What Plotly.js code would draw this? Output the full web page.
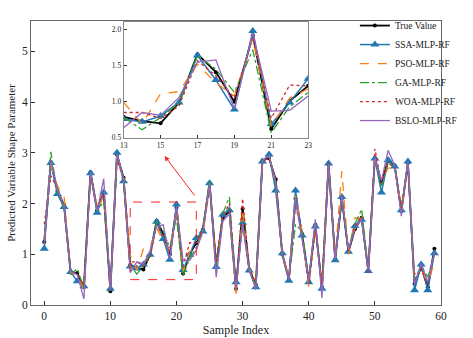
<!DOCTYPE html>
<html>
<head>
<meta charset="utf-8">
<script src="https://cdn.plot.ly/plotly-3.0.1.min.js"></script>
<style>
  body { margin: 0; background: #fff; }
  #box { width: 473px; height: 338px; }
</style>
</head>
<body>
<div id="box"></div>
<script>
'use strict'

var sampleIdx = [];
for (var i = 0; i < 60; i++) sampleIdx.push(i);

var trueVal = [1.24, 2.82, 2.25, 1.97, 0.64, 0.63, 0.35, 2.62, 1.87, 2.22,
               0.27, 2.97, 2.51, 0.79, 0.73, 0.70, 0.99, 1.66, 1.41, 1.00,
               1.92, 0.62, 1.01, 1.22, 1.49, 2.41, 0.78, 1.72, 1.85, 0.32,
               1.90, 0.70, 0.40, 2.85, 2.90, 2.48, 1.00, 0.50, 2.10, 1.40,
               0.48, 1.58, 0.35, 2.78, 0.90, 2.10, 1.05, 1.50, 1.72, 0.68,
               2.90, 2.41, 2.85, 2.75, 1.85, 2.80, 0.42, 0.75, 0.35, 1.11];

var ssa = [1.11, 2.80, 2.19, 1.93, 0.65, 0.47, 0.37, 2.60, 1.82, 2.22,
           0.32, 3.00, 2.44, 0.76, 0.72, 0.80, 0.99, 1.64, 1.30, 0.89,
           1.98, 0.69, 0.99, 1.32, 1.45, 2.40, 0.75, 1.78, 1.87, 0.45,
           1.62, 0.68, 0.35, 2.83, 2.97, 2.26, 1.02, 0.48, 2.26, 1.37,
           0.45, 1.55, 0.32, 2.79, 0.88, 2.13, 1.05, 1.56, 1.68, 0.67,
           2.89, 2.22, 2.86, 2.73, 1.87, 2.83, 0.29, 0.80, 0.29, 1.02];

var pso = [1.30, 2.75, 2.35, 2.15, 0.62, 0.60, 0.30, 2.55, 1.90, 2.15,
           0.35, 2.90, 2.55, 0.99, 0.69, 1.11, 1.14, 1.52, 1.26, 1.08,
           1.88, 0.66, 1.05, 1.18, 1.40, 2.30, 0.85, 1.70, 1.80, 0.15,
           1.90, 0.72, 0.45, 2.82, 2.92, 2.40, 1.05, 0.55, 2.15, 1.45,
           0.35, 1.50, 0.40, 2.75, 0.95, 2.64, 1.00, 1.72, 1.70, 0.70,
           2.85, 2.45, 2.70, 2.70, 1.95, 2.78, 0.60, 0.70, 0.45, 0.83];

var ga = [1.20, 3.02, 2.20, 1.90, 0.60, 0.72, 0.32, 2.60, 1.85, 2.05,
          0.30, 2.95, 2.45, 0.78, 0.61, 0.78, 0.98, 1.64, 1.45, 1.13,
          1.72, 0.57, 0.93, 1.13, 1.55, 2.45, 0.80, 1.80, 2.13, 0.35,
          1.65, 0.72, 0.38, 2.85, 2.92, 2.40, 0.95, 0.50, 1.59, 1.45,
          0.50, 1.55, 0.38, 2.78, 0.92, 2.10, 1.10, 1.60, 1.89, 0.70,
          2.92, 2.35, 2.80, 2.70, 1.85, 2.78, 0.48, 0.78, 0.55, 1.00];

var woa = [1.59, 2.55, 2.30, 1.95, 0.68, 0.60, 0.38, 2.55, 1.95, 2.20,
           0.30, 2.85, 2.50, 0.85, 0.85, 0.77, 0.94, 1.57, 1.36, 1.05,
           1.90, 0.77, 1.23, 1.22, 1.50, 2.35, 0.85, 1.75, 2.00, 0.30,
           2.10, 0.75, 0.42, 2.85, 2.88, 2.45, 1.05, 0.52, 2.00, 1.35,
           0.42, 1.50, 0.38, 2.82, 0.92, 2.15, 1.05, 1.55, 1.75, 0.62,
           3.08, 2.40, 2.80, 2.72, 1.90, 2.80, 0.45, 0.72, 0.40, 1.05];

var bslo = [1.20, 2.85, 2.28, 1.95, 0.65, 0.60, 0.12, 2.62, 1.85, 2.49,
            0.28, 2.98, 2.50, 0.64, 0.85, 0.81, 1.06, 1.55, 1.58, 0.90,
            1.95, 0.87, 0.88, 1.08, 1.45, 2.40, 0.55, 1.65, 1.80, 0.30,
            1.60, 0.70, 0.30, 2.85, 2.95, 2.45, 1.00, 0.50, 2.10, 1.30,
            0.48, 1.69, 0.14, 2.78, 0.90, 2.15, 1.10, 1.50, 1.70, 0.68,
            2.90, 2.45, 3.05, 2.75, 1.75, 2.82, 0.40, 0.82, 0.45, 1.05];

var zoomX = [13, 23];
var zoomY = [0.5, 2.1];

var serif = 'Liberation Serif, Times New Roman, serif';

var series = [
    {name: 'True Value',  y: trueVal, color: '#000000', dash: 'solid',   width: 1.8, marker: {symbol: 'circle', size: 4}},
    {name: 'SSA-MLP-RF',  y: ssa,     color: '#1f77b4', dash: 'solid',   width: 1.5, marker: {symbol: 'triangle-up', size: 8}},
    {name: 'PSO-MLP-RF',  y: pso,     color: '#ff7f0e', dash: 'dash',    width: 1.3, marker: null},
    {name: 'GA-MLP-RF',   y: ga,      color: '#2ca02c', dash: 'dashdot', width: 1.3, marker: null},
    {name: 'WOA-MLP-RF',  y: woa,     color: '#d62728', dash: 'dot',     width: 1.3, marker: null},
    {name: 'BSLO-MLP-RF', y: bslo,    color: '#9467bd', dash: 'solid',   width: 1.3, marker: null}
];

var graphData = [];
series.forEach(function(s){
    var tr = {
        type: 'scatter',
        mode: s.marker ? 'lines+markers' : 'lines',
        name: s.name,
        x: sampleIdx,
        y: s.y,
        line: {color: s.color, dash: s.dash, width: s.width},
        xaxis: 'x', yaxis: 'y'
    };
    if (s.marker) tr.marker = {color: s.color, symbol: s.marker.symbol, size: s.marker.size};
    graphData.push(tr);
});
// inset copies of the zoomed window
series.forEach(function(s){
    var xs = [], ys = [];
    for (var i = zoomX[0]; i <= zoomX[1]; i++) { xs.push(i); ys.push(s.y[i]); }
    var tr = {
        type: 'scatter',
        mode: s.marker ? 'lines+markers' : 'lines',
        x: xs, y: ys,
        showlegend: false,
        line: {color: s.color, dash: s.dash, width: s.width},
        xaxis: 'x2', yaxis: 'y2'
    };
    if (s.marker) tr.marker = {color: s.color, symbol: s.marker.symbol, size: s.marker.size};
    graphData.push(tr);
});

var layout = {
    width: 473,
    height: 338,
    margin: {l: 31, r: 13, t: 11, b: 33, pad: 0},
    paper_bgcolor: '#ffffff',
    plot_bgcolor: '#ffffff',
    font: {family: serif, size: 11.5, color: '#222'},
    showlegend: true,
    legend: {
        x: 0.79, y: 1.035, xanchor: 'left', yanchor: 'top',
        bgcolor: 'rgba(255,255,255,0)',
        font: {family: serif, size: 9.5, color: '#222'},
        tracegroupgap: 0
    },
    xaxis: {
        domain: [0, 1],
        range: [-2, 60],
        tickvals: [0, 10, 20, 30, 40, 50, 60],
        ticks: 'inside', ticklen: 4, tickcolor: '#333',
        showline: true, mirror: true, linecolor: '#666', linewidth: 1,
        showgrid: false, zeroline: false,
        title: {text: 'Sample Index', font: {family: serif, size: 12}, standoff: 4},
        automargin: false
    },
    yaxis: {
        domain: [0, 1],
        range: [0, 5.6],
        tickvals: [0, 1, 2, 3, 4, 5],
        ticks: 'inside', ticklen: 4, tickcolor: '#333',
        showline: true, mirror: true, linecolor: '#666', linewidth: 1,
        showgrid: false, zeroline: false,
        title: {text: 'Predicted Variable Shape Parameter', font: {family: serif, size: 11}, standoff: 4},
        automargin: false
    },
    xaxis2: {
        domain: [0.226, 0.676],
        anchor: 'y2',
        range: zoomX,
        tickvals: [13, 15, 17, 19, 21, 23],
        ticks: 'inside', ticklen: 3, tickcolor: '#333',
        tickfont: {family: serif, size: 7.5},
        showline: true, mirror: true, linecolor: '#888', linewidth: 1,
        showgrid: false, zeroline: false
    },
    yaxis2: {
        domain: [0.589, 0.995],
        anchor: 'x2',
        range: zoomY,
        tickvals: [0.5, 1.0, 1.5, 2.0],
        tickformat: '.1f',
        ticks: 'inside', ticklen: 3, tickcolor: '#333',
        tickfont: {family: serif, size: 7.5},
        showline: true, mirror: true, linecolor: '#888', linewidth: 1,
        showgrid: false, zeroline: false
    },
    shapes: [{
        type: 'rect', xref: 'x', yref: 'y',
        x0: zoomX[0], x1: zoomX[1], y0: 0.5, y1: 2.03,
        line: {color: '#ff2222', width: 1, dash: 'dash'},
        fillcolor: 'rgba(0,0,0,0)'
    }],
    annotations: [{
        xref: 'x', yref: 'y', axref: 'x', ayref: 'y',
        x: 18.2, y: 2.94, ax: 22.9, ay: 2.13,
        text: '', showarrow: true,
        arrowhead: 2, arrowsize: 1, arrowwidth: 1, arrowcolor: '#ff2222'
    }]
};

Plotly.newPlot('box', graphData, layout, {displayModeBar: false, staticPlot: true});
</script>
</body>
</html>
